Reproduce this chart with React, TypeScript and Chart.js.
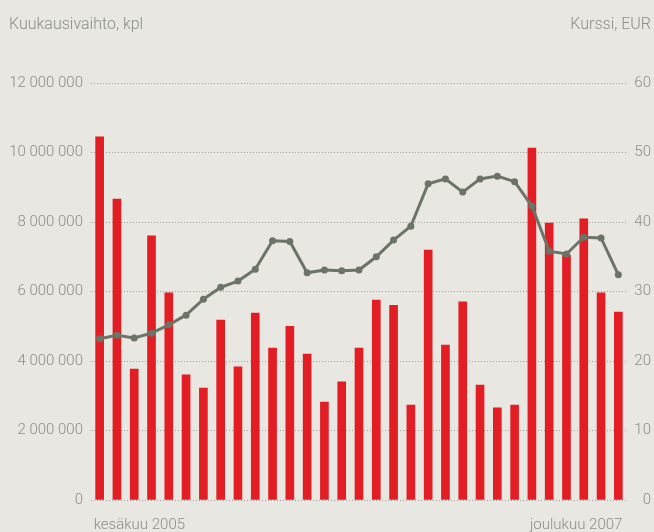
import React, { useEffect, useRef } from "react";
import { Chart, registerables } from "chart.js";

Chart.register(...registerables);

const months = [
  "2005-06", "2005-07", "2005-08", "2005-09", "2005-10", "2005-11", "2005-12",
  "2006-01", "2006-02", "2006-03", "2006-04", "2006-05", "2006-06", "2006-07",
  "2006-08", "2006-09", "2006-10", "2006-11", "2006-12", "2007-01", "2007-02",
  "2007-03", "2007-04", "2007-05", "2007-06", "2007-07", "2007-08", "2007-09",
  "2007-10", "2007-11", "2007-12",
];

const volume = [
  10450000, 8660000, 3770000, 7600000, 5960000, 3600000, 3220000, 5180000,
  3830000, 5380000, 4370000, 5000000, 4200000, 2820000, 3400000, 4370000,
  5750000, 5600000, 2730000, 7190000, 4460000, 5700000, 3310000, 2650000,
  2730000, 10130000, 7970000, 7050000, 8090000, 5960000, 5410000,
];

const price = [
  23.2, 23.7, 23.3, 24.0, 25.2, 26.6, 28.9, 30.6, 31.5, 33.2, 37.3, 37.2,
  32.7, 33.1, 33.0, 33.1, 35.0, 37.4, 39.4, 45.5, 46.2, 44.3, 46.2, 46.6,
  45.8, 42.3, 35.8, 35.4, 37.8, 37.7, 32.4,
];

const leftTitle = "Kuukausivaihto, kpl";
const rightTitle = "Kurssi, EUR";
const firstLabel = "kesäkuu 2005";
const lastLabel = "joulukuu 2007";

const BG = "#e8e7e2";
const TEXT = "#8b9088";
const FONT = "Roboto, 'Liberation Sans', sans-serif";

const fmt = (v: number) =>
  String(v).replace(/\B(?=(\d{3})+(?!\d))/g, " ");

const textPlugin = {
  id: "texts",
  afterDraw(chart: any) {
    const ctx = chart.ctx;
    const x = chart.scales.x;
    ctx.save();
    ctx.fillStyle = TEXT;
    ctx.textBaseline = "alphabetic";
    ctx.font = `300 16px ${FONT}`;
    ctx.textAlign = "left";
    ctx.fillText(leftTitle, 9, 29);
    ctx.textAlign = "right";
    ctx.fillText(rightTitle, 651, 29);
    ctx.font = `300 15px ${FONT}`;
    ctx.textAlign = "left";
    ctx.fillText(firstLabel, x.getPixelForValue(0) - 6, 529);
    ctx.textAlign = "right";
    ctx.fillText(lastLabel, x.getPixelForValue(months.length - 1) + 4, 529);
    ctx.restore();
  },
};

export default function App() {
  const ref = useRef<HTMLCanvasElement | null>(null);

  useEffect(() => {
    if (!ref.current) return;
    const chart = new Chart(ref.current, {
      type: "bar",
      data: {
        labels: months,
        datasets: [
          {
            type: "line",
            data: price,
            yAxisID: "y1",
            borderColor: "#6b7467",
            backgroundColor: "#6b7467",
            borderWidth: 3,
            pointRadius: 3.5,
            pointBackgroundColor: "#6b7467",
            pointBorderWidth: 0,
            tension: 0,
            order: 0,
          } as any,
          {
            type: "bar",
            data: volume,
            yAxisID: "y",
            backgroundColor: "#e31d24",
            barThickness: 8,
            order: 1,
          } as any,
        ],
      },
      options: {
        responsive: false,
        animation: false,
        layout: { padding: { top: 83, bottom: 32, left: 0, right: 3 } },
        plugins: {
          legend: { display: false },
          tooltip: { enabled: false },
        },
        scales: {
          x: {
            display: false,
            offset: true,
          },
          y: {
            position: "left",
            min: 0,
            max: 12000000,
            afterFit: (s: any) => {
              s.width = 91;
            },
            ticks: {
              stepSize: 2000000,
              color: TEXT,
              font: { family: FONT, size: 15, weight: "300" as any },
              padding: 8,
              callback: (v: any) => fmt(Number(v)),
            },
            border: { display: false, dash: [1, 2] },
            grid: {
              drawTicks: false,
              color: "#9a9d96",
              lineWidth: 1,
            },
          } as any,
          y1: {
            position: "right",
            min: 0,
            max: 60,
            afterFit: (s: any) => {
              s.width = 24;
            },
            ticks: {
              stepSize: 10,
              color: TEXT,
              font: { family: FONT, size: 15, weight: "300" as any },
              padding: 8,
              crossAlign: "far",
            },
            border: { display: false },
            grid: { display: false, drawTicks: false },
          } as any,
        },
      },
      plugins: [textPlugin],
    });
    return () => chart.destroy();
  }, []);

  return (
    <div
      style={{
        position: "fixed",
        left: 0,
        top: 0,
        width: 654,
        height: 532,
        background: BG,
      }}
    >
      <canvas ref={ref} width={654} height={532} style={{ display: "block" }} />
    </div>
  );
}
